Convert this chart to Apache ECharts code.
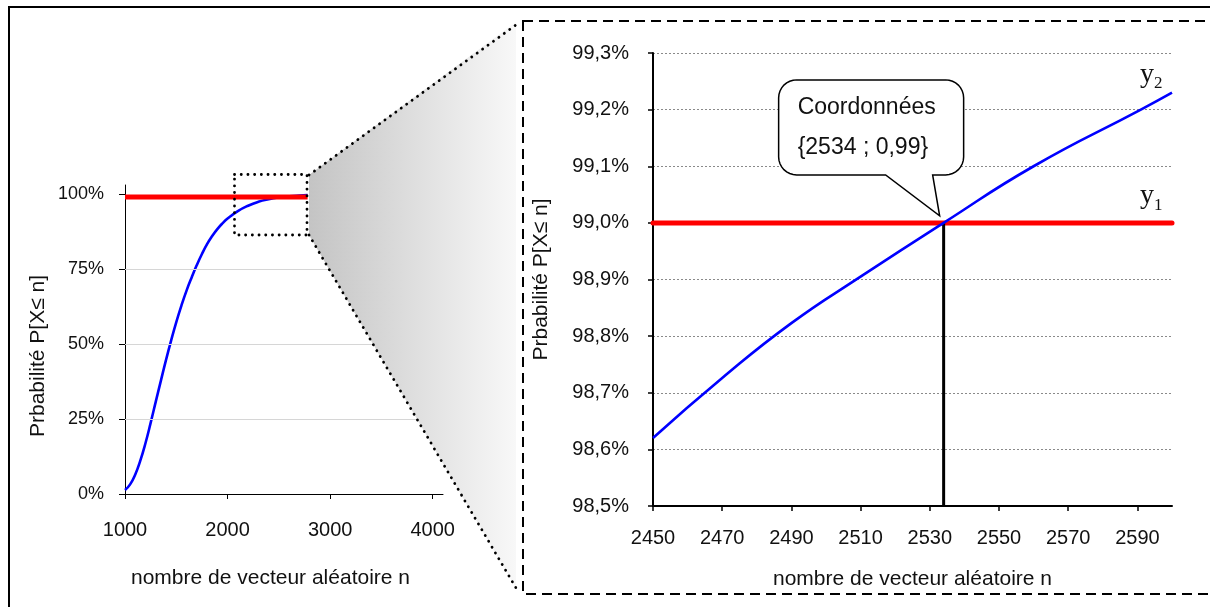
<!DOCTYPE html>
<html><head><meta charset="utf-8">
<script src="https://cdn.jsdelivr.net/npm/echarts@6/dist/echarts.min.js"></script>
<style>html,body{margin:0;padding:0;background:#fff}#c{width:1210px;height:607px}</style>
</head><body><div id="c"></div>
<script>
// ---- data ----
const overviewN = [1000,1050,1100,1150,1200,1250,1300,1350,1400,1450,1500,1550,1600,1650,1700,1750,1800,1850,1900,1950,2000,2100,2200,2300,2400,2500,2600,2700,2780];
const overviewP = [0.013,0.032,0.065,0.112,0.17,0.237,0.308,0.378,0.447,0.512,0.573,0.628,0.678,0.722,0.763,0.8,0.833,0.86,0.883,0.902,0.918,0.943,0.961,0.974,0.9825,0.9885,0.9923,0.9948,0.9962];
const thresholdP = 0.99;
const overviewThresholdN = [1000, 2780];
const zoomN = [2450,2470,2490,2510,2534,2560,2591,2600];
const zoomP = [0.9862,0.98726,0.98823,0.98905,0.9900,0.9910,0.9920,0.9923];
const zoomThresholdN = [2450, 2600];
const crossing = [2534, 0.99];
const overviewXTicks = [1000,2000,3000,4000];
const overviewYTicks = [0,0.25,0.5,0.75,1];
const overviewGridLines = [0.25,0.5,0.75];
const zoomXTicks = [2450,2470,2490,2510,2530,2550,2570,2590];
const yTitle = 'Prbabilité P[X≤ n]';
const xTitle = 'nombre de vecteur aléatoire n';
const calloutLines = ['Coordonnées', '{2534 ; 0,99}'];
const seriesLabels = ['1', '2'];

// ---- chart ----
const FONT = 'Liberation Sans, Arial, sans-serif';
const SERIF = 'Liberation Serif, Times New Roman, serif';
const chart = echarts.init(document.getElementById('c'), null, {renderer:'canvas'});
const pctLeft = v => Math.round(v*100) + '%';
const pctRight = v => (v*100).toFixed(1).replace('.', ',') + '%';
const plain = v => String(Math.round(v));

const option = {
  animation: false,
  backgroundColor: '#fff',
  textStyle: {fontFamily: FONT},
  grid: [
    {left:125, top:185, width:318, height:309},
    {left:653, top:53, width:519, height:453}
  ],
  xAxis: [
    {gridIndex:0, type:'value', min:1000, max:4100, interval:1000,
     axisLine:{show:true, onZero:false, lineStyle:{color:'#000', width:1}},
     axisTick:{show:true, length:5, customValues:overviewXTicks, lineStyle:{color:'#000'}},
     axisLabel:{customValues:overviewXTicks, margin:26, fontSize:20, color:'#111', fontFamily:FONT, formatter:plain},
     splitLine:{show:false},
     name:xTitle, nameLocation:'middle', nameGap:74,
     nameTextStyle:{fontSize:21, color:'#111', fontFamily:FONT, padding:[0,27,0,0]}},
    {gridIndex:1, type:'value', min:2450, max:2600, interval:10,
     axisLine:{show:true, onZero:false, lineStyle:{color:'#000', width:2}},
     axisTick:{show:true, length:5, customValues:zoomXTicks, lineStyle:{color:'#000', width:1.5}},
     axisLabel:{customValues:zoomXTicks, margin:22, fontSize:20, color:'#111', fontFamily:FONT, formatter:plain},
     splitLine:{show:false},
     name:xTitle, nameLocation:'middle', nameGap:63,
     nameTextStyle:{fontSize:21, color:'#111', fontFamily:FONT}}
  ],
  yAxis: [
    {gridIndex:0, type:'value', min:0, max:1.03, interval:0.25,
     axisLine:{show:true, onZero:false, lineStyle:{color:'#000', width:1}},
     axisTick:{show:true, length:6, customValues:overviewYTicks, lineStyle:{color:'#000'}},
     axisLabel:{customValues:overviewYTicks, margin:21, fontSize:18, color:'#111', fontFamily:FONT, formatter:pctLeft},
     splitLine:{show:false},
     name:yTitle, nameLocation:'middle', nameGap:76,
     nameTextStyle:{fontSize:21, color:'#111', fontFamily:FONT, padding:[0,33,0,0]}},
    {gridIndex:1, type:'value', min:0.985, max:0.993, interval:0.001,
     axisLine:{show:true, onZero:false, lineStyle:{color:'#000', width:2}},
     axisTick:{show:true, length:5, lineStyle:{color:'#000', width:1.5}},
     axisLabel:{margin:24, fontSize:20, color:'#111', fontFamily:FONT, formatter:pctRight},
     splitLine:{show:true, lineStyle:{color:'#8a8a8a', width:1, type:[2,2]}},
     name:yTitle, nameLocation:'middle', nameGap:101,
     nameTextStyle:{fontSize:21, color:'#111', fontFamily:FONT}}
  ],
  series: [
    {type:'line', xAxisIndex:0, yAxisIndex:0, data:[], z:1, silent:true,
     markLine:{silent:true, symbol:'none', label:{show:false}, animation:false,
       lineStyle:{color:'#d6d6d6', width:1, type:'solid'},
       data: overviewGridLines.map(v => ({yAxis:v}))}},
    {type:'line', xAxisIndex:0, yAxisIndex:0, z:2, showSymbol:false, smooth:0.5,
     lineStyle:{color:'#0000ff', width:2.6},
     data: overviewN.map((n,i) => [n, overviewP[i]])},
    {type:'line', xAxisIndex:0, yAxisIndex:0, z:3, showSymbol:false,
     lineStyle:{color:'#ff0000', width:5, cap:'butt'},
     data: overviewThresholdN.map(n => [n, thresholdP])},
    {type:'line', xAxisIndex:1, yAxisIndex:1, z:2, showSymbol:false,
     lineStyle:{color:'#ff0000', width:5, cap:'round'},
     data: zoomThresholdN.map(n => [n, thresholdP])},
    {type:'line', xAxisIndex:1, yAxisIndex:1, z:3, showSymbol:false,
     lineStyle:{color:'#000', width:3},
     data: [[crossing[0], 0.985], crossing]},
    {type:'line', xAxisIndex:1, yAxisIndex:1, z:4, showSymbol:false, smooth:0.5,
     lineStyle:{color:'#0000ff', width:2.6},
     data: zoomN.map((n,i) => [n, zoomP[i]])}
  ]
};
chart.setOption(option);

// ---- decorations / annotations ----
const tip = chart.convertToPixel({xAxisIndex:1, yAxisIndex:1}, crossing);
const endBlue = chart.convertToPixel({xAxisIndex:1, yAxisIndex:1}, [zoomN[zoomN.length-1], zoomP[zoomP.length-1]]);
const endRed = chart.convertToPixel({xAxisIndex:1, yAxisIndex:1}, [zoomThresholdN[1], thresholdP]);

const tx = tip[0], ty = tip[1];
const L = tx-165, T = ty-143, R = tx+20, B = ty-48, r = 18;
function arc(cx, cy, a0, a1) {
  const pts = [];
  for (let k = 0; k <= 8; k++) {
    const a = a0 + (a1 - a0) * k / 8;
    pts.push([cx + r*Math.cos(a), cy + r*Math.sin(a)]);
  }
  return pts;
}
const PI = Math.PI;
const calloutPts = [].concat(
  arc(R-r, T+r, -PI/2, 0),
  arc(R-r, B-r, 0, PI/2),
  [[tx-11, B], [tx-4, ty-7], [tx-58, B]],
  arc(L+r, B-r, PI/2, PI),
  arc(L+r, T+r, PI, 1.5*PI)
);

const dot = {stroke:'#000', lineWidth:2.8, lineDash:[0.1,6.6], lineCap:'round', fill:null};

const graphic = [
  {type:'rect', z:50, silent:true, shape:{x:9, y:7, width:1240, height:650},
   style:{fill:null, stroke:'#000', lineWidth:2}},
  {type:'polygon', z:40, silent:true,
   shape:{points:[[309,175],[516,22],[516,588],[309,235]]},
   style:{fill:new echarts.graphic.LinearGradient(0,0,1,0,[{offset:0,color:'#c4c4c4'},{offset:1,color:'#f8f8f8'}]), stroke:null}},
  {type:'line', z:45, silent:true, shape:{x1:309, y1:175, x2:520, y2:22}, style:dot},
  {type:'line', z:45, silent:true, shape:{x1:309, y1:235, x2:516, y2:588}, style:dot},
  {type:'rect', z:45, silent:true, shape:{x:234.5, y:174.5, width:72.5, height:60.5}, style:dot},
  {type:'rect', z:50, silent:true, shape:{x:523, y:21, width:720, height:573},
   style:{fill:null, stroke:'#000', lineWidth:2, lineDash:[10,6]}},
  {type:'polygon', z:60, silent:true, shape:{points:calloutPts},
   style:{fill:'#fff', stroke:'#000', lineWidth:1.5}},
  {type:'text', z:61, silent:true, x:L+19, y:T+28,
   style:{text:calloutLines[0], font:'23px ' + FONT, fill:'#111', align:'left', verticalAlign:'middle'}},
  {type:'text', z:61, silent:true, x:L+19, y:T+68,
   style:{text:calloutLines[1], font:'23px ' + FONT, fill:'#111', align:'left', verticalAlign:'middle'}},
  {type:'text', z:61, silent:true, x:endBlue[0]-32, y:endBlue[1]-18,
   style:{text:'y', font:'28px ' + SERIF, fill:'#111', align:'left', verticalAlign:'middle'}},
  {type:'text', z:61, silent:true, x:endBlue[0]-18, y:endBlue[1]-9,
   style:{text:seriesLabels[1], font:'17px ' + SERIF, fill:'#111', align:'left', verticalAlign:'middle'}},
  {type:'text', z:61, silent:true, x:endRed[0]-32, y:endRed[1]-27,
   style:{text:'y', font:'28px ' + SERIF, fill:'#111', align:'left', verticalAlign:'middle'}},
  {type:'text', z:61, silent:true, x:endRed[0]-18, y:endRed[1]-17,
   style:{text:seriesLabels[0], font:'17px ' + SERIF, fill:'#111', align:'left', verticalAlign:'middle'}}
];
chart.setOption({graphic: graphic});
</script>
</body></html>
